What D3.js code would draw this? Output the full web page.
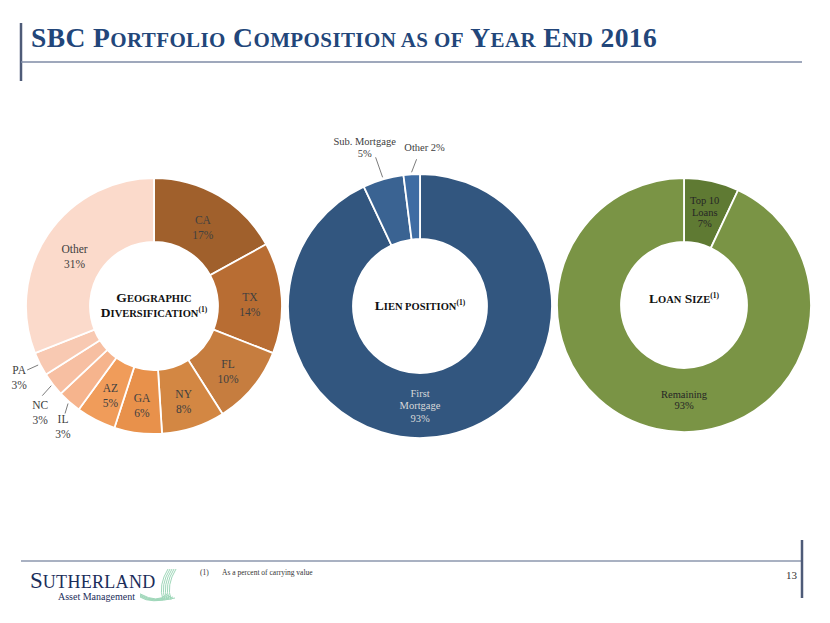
<!DOCTYPE html>
<html><head><meta charset="utf-8">
<script src="https://cdnjs.cloudflare.com/ajax/libs/d3/7.8.5/d3.min.js"></script>
<style>body{margin:0;background:#fff}svg{display:block}text{font-family:"Liberation Serif","Times New Roman",serif}</style>
</head><body><svg id="c" width="830" height="623"></svg>
<script>
// ---- data ----
const geoCats = ["CA","TX","FL","NY","GA","AZ","IL","NC","PA","Other"];
const geoVals = [17,14,10,8,6,5,3,3,3,31];
const geoColors = ["#A0602C","#B86D33","#C67D3F","#D38743","#E8914B","#F09C5A","#F6B48D","#F7BFA2","#F8C9B2","#FBDACB"];

const lienCats = ["First Mortgage","Sub. Mortgage","Other"];
const lienVals = [93,5,2];
const lienColors = ["#32567F","#3A6392","#3E6CA3"];

const loanCats = ["Top 10 Loans","Remaining"];
const loanVals = [7,93];
const loanColors = ["#5F7A33","#7A9445"];

const svg = d3.select("#c");
const navy = "#22467A";

// ---- header ----
svg.append("line").attr("x1",21).attr("x2",21).attr("y1",23).attr("y2",81).attr("stroke","#4E5B78").attr("stroke-width",2.5);
svg.append("line").attr("x1",21).attr("x2",802).attr("y1",62).attr("y2",62).attr("stroke","#7F8BA6").attr("stroke-width",1.5);

function smallCaps(sel, words, big, small) {
  words.forEach((w, i) => {
    const txt = (i ? " " : "");
    if (w.full) {
      sel.append("tspan").attr("font-size", big).text(txt + w.t);
    } else if (w.lower) {
      sel.append("tspan").attr("font-size", small).text(txt + w.t.toUpperCase());
    } else {
      sel.append("tspan").attr("font-size", big).text(txt + w.t[0]);
      sel.append("tspan").attr("font-size", small).text(w.t.slice(1).toUpperCase());
    }
  });
}
const title = svg.append("text").attr("x",31).attr("y",47).attr("fill",navy).attr("font-weight","bold").attr("letter-spacing",0.4);
smallCaps(title, [{t:"SBC",full:true},{t:"Portfolio"},{t:"Composition"},{t:"as",lower:true},{t:"of",lower:true},{t:"Year"},{t:"End"},{t:"2016",full:true}], 27.5, 21);

// ---- donut helper ----
function donut(cfg) {
  const g = svg.append("g").attr("transform", `translate(${cfg.cx},${cfg.cy})`);
  const pie = d3.pie().sort(null).value(d => d.v);
  const arcs = pie(cfg.cats.map((c, i) => ({c, v: cfg.vals[i], col: cfg.colors[i]})));
  const arc = d3.arc().innerRadius(cfg.ri).outerRadius(cfg.ro);
  g.selectAll("path.s").data(arcs).join("path").attr("class","s")
    .attr("d", arc).attr("fill", d => d.data.col).attr("stroke","#fff").attr("stroke-width",1.8);
  const rm = (cfg.ri + cfg.ro) / 2;
  arcs.forEach(d => {
    const spec = cfg.label(d);
    let a = (d.startAngle + d.endAngle) / 2;
    let x, y;
    if (spec.outside) {
      const sx = Math.sin(a), sy = -Math.cos(a);
      const p0 = [sx*(cfg.ro+2), sy*(cfg.ro+2)];
      const p1 = [p0[0]+spec.lead[0], p0[1]+spec.lead[1]];
      g.append("line").attr("x1",p0[0]).attr("y1",p0[1]).attr("x2",p1[0]).attr("y2",p1[1])
        .attr("stroke","#595959").attr("stroke-width",0.8);
      x = p1[0] + spec.off[0]; y = p1[1] + spec.off[1];
    } else {
      if (d.data.v > 50) a = Math.PI;
      x = Math.sin(a)*rm; y = -Math.cos(a)*rm + (cfg.dy||0);
    }
    const n = spec.lines.length, lh = cfg.lh;
    const t = g.append("text").attr("text-anchor","middle").attr("font-size",cfg.fs).attr("fill",spec.color||cfg.tc);
    spec.lines.forEach((l, i) => {
      t.append("tspan").attr("x", x).attr("y", y + (i - (n-1)/2)*lh + cfg.fs*0.35).text(l);
    });
  });
  cfg.center.forEach(line => {
    const t = g.append("text").attr("text-anchor","middle").attr("font-weight","bold").attr("fill","#111")
      .attr("y", line.y);
    line.words.forEach((w, i) => {
      const pre = i ? " " : "";
      if (w.lower) t.append("tspan").attr("font-size",10.5).text(pre + w.t.toUpperCase());
      else if (w.sup) t.append("tspan").attr("font-size",7.5).attr("dy",-5).text(w.t);
      else { t.append("tspan").attr("font-size",13.5).text(pre + w.t[0]); t.append("tspan").attr("font-size",10.5).text(w.t.slice(1).toUpperCase()); }
    });
  });
}

const pct = v => v + "%";

donut({cx:154, cy:306, ri:64, ro:128, cats:geoCats, vals:geoVals, colors:geoColors, fs:11.5, lh:15, tc:"#404040", dy:4,
  label: d => {
    const c = d.data.c;
    const lines = [c, pct(d.data.v)];
    if (c === "PA") return {outside:true, lines, lead:[-11,5], off:[-8,7]};
    if (c === "NC") return {outside:true, lines, lead:[-9,10], off:[-2,17]};
    if (c === "IL") return {outside:true, lines, lead:[-3,10], off:[-2,13]};
    return {lines};
  },
  center:[{y:-4, words:[{t:"Geographic"}]},{y:11, words:[{t:"Diversification"},{t:"(1)",sup:true}]}]
});

donut({cx:420, cy:306, ri:67, ro:132, cats:lienCats, vals:lienVals, colors:lienColors, fs:10.5, lh:12.5, tc:"#D9D9D9", dy:0,
  label: d => {
    const c = d.data.c;
    if (c === "First Mortgage") return {lines:["First","Mortgage",pct(d.data.v)]};
    if (c === "Sub. Mortgage") return {outside:true, color:"#404040", lines:[c, pct(d.data.v)], lead:[-7,-20], off:[-11,-10]};
    return {outside:true, color:"#404040", lines:[c + " " + pct(d.data.v)], lead:[5,-13], off:[8,-12]};
  },
  center:[{y:4, words:[{t:"Lien"},{t:"position",lower:true},{t:"(1)",sup:true}]}]
});

donut({cx:684, cy:305, ri:63, ro:127, cats:loanCats, vals:loanVals, colors:loanColors, fs:10.5, lh:11.5, tc:"#262626", dy:0,
  label: d => {
    const c = d.data.c;
    if (c === "Top 10 Loans") return {lines:["Top 10","Loans",pct(d.data.v)]};
    return {lines:[c, pct(d.data.v)]};
  },
  center:[{y:-2, words:[{t:"Loan"},{t:"Size"},{t:"(1)",sup:true}]}]
});

// ---- footer ----
svg.append("line").attr("x1",21).attr("x2",802).attr("y1",561).attr("y2",561).attr("stroke","#8C97AE").attr("stroke-width",1.5);
svg.append("line").attr("x1",802).attr("x2",802).attr("y1",540).attr("y2",598).attr("stroke","#4E5B78").attr("stroke-width",2.5);
svg.append("text").attr("x",797).attr("y",579).attr("text-anchor","end").attr("font-size",11).attr("fill","#333").text("13");
svg.append("text").attr("x",200).attr("y",575).attr("font-size",7.5).attr("fill","#333").text("(1)");
svg.append("text").attr("x",222).attr("y",575).attr("font-size",7.5).attr("fill","#333").text("As a percent of carrying value");

// logo (one text element with two lines)
const logo = svg.append("text").attr("fill","#1B2D5A");
logo.append("tspan").attr("x",30).attr("y",588).attr("font-size",23).text("S");
logo.append("tspan").attr("font-size",18).attr("letter-spacing",0.3).text("UTHERLAND");
logo.append("tspan").attr("x",58).attr("y",600).attr("font-size",10).attr("letter-spacing",0).text("Asset Management");
const sw = svg.append("g").attr("fill","none").attr("stroke","#8FD1AE").attr("stroke-width",1).attr("opacity",0.85);
[0,2,4,6,8].forEach(i => {
  sw.append("path").attr("d", `M${163+i},600 Q${158+i},585 ${168+i},569`);
  sw.append("path").attr("d", `M140,${597-i*0.4} Q${150+i},604 ${175-i},${598-i*0.5}`);
});
</script></body></html>
